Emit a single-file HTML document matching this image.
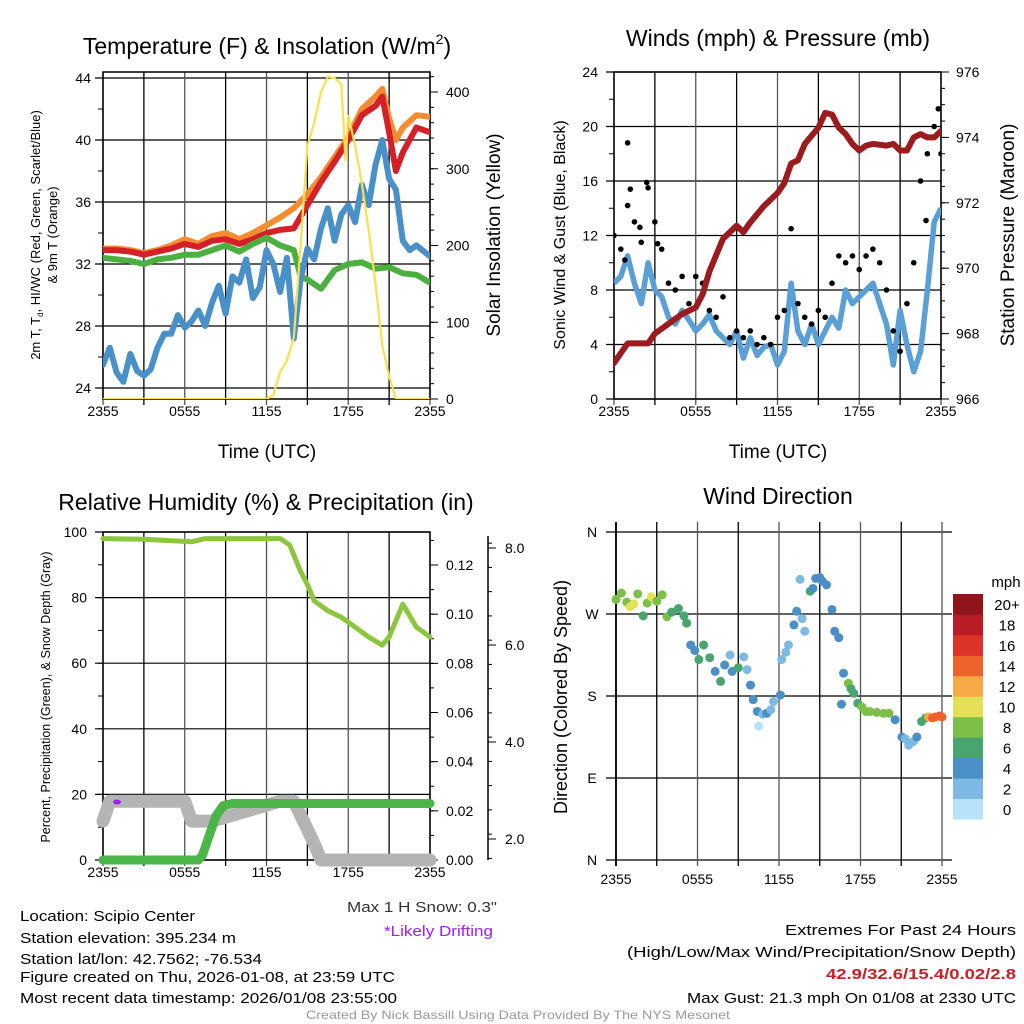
<!DOCTYPE html>
<html><head><meta charset="utf-8"><style>
html,body{margin:0;padding:0;background:#fff;}
svg{display:block;font-family:"Liberation Sans",sans-serif;}
</style></head><body>
<svg id="c" width="1024" height="1024" viewBox="0 0 1024 1024" xmlns="http://www.w3.org/2000/svg">
<rect width="1024" height="1024" fill="#fff"/>
<g id="titles" font-size="23" text-anchor="middle" fill="#000">
<text x="267" y="54">Temperature (F) &amp; Insolation (W/m<tspan font-size="14" dy="-10">2</tspan><tspan dy="10">)</tspan></text>
<text x="778" y="46">Winds (mph) &amp; Pressure (mb)</text>
<text x="266" y="510">Relative Humidity (%) &amp; Precipitation (in)</text>
<text x="778" y="504">Wind Direction</text>
</g>
<g id="layer"></g>
<g font-size="15" fill="#000">
<text x="20" y="921" textLength="175" lengthAdjust="spacingAndGlyphs">Location: Scipio Center</text>
<text x="20" y="943" textLength="216" lengthAdjust="spacingAndGlyphs">Station elevation: 395.234 m</text>
<text x="20" y="964" textLength="242" lengthAdjust="spacingAndGlyphs">Station lat/lon: 42.7562; -76.534</text>
<text x="20" y="982" textLength="375" lengthAdjust="spacingAndGlyphs">Figure created on Thu, 2026-01-08, at 23:59 UTC</text>
<text x="20" y="1003" textLength="377" lengthAdjust="spacingAndGlyphs">Most recent data timestamp: 2026/01/08 23:55:00</text>
<text x="347" y="912" fill="#333" textLength="150" lengthAdjust="spacingAndGlyphs">Max 1 H Snow: 0.3"</text>
<text x="384" y="936" fill="#a020f0" textLength="109" lengthAdjust="spacingAndGlyphs">*Likely Drifting</text>
<text x="785" y="935" textLength="231" lengthAdjust="spacingAndGlyphs">Extremes For Past 24 Hours</text>
<text x="627" y="957" textLength="389" lengthAdjust="spacingAndGlyphs">(High/Low/Max Wind/Precipitation/Snow Depth)</text>
<text x="826" y="979" fill="#c8202a" font-weight="bold" textLength="190" lengthAdjust="spacingAndGlyphs">42.9/32.6/15.4/0.02/2.8</text>
<text x="687" y="1003" textLength="329" lengthAdjust="spacingAndGlyphs">Max Gust: 21.3 mph On 01/08 at 2330 UTC</text>
<text x="306" y="1019" font-size="12" fill="#999" textLength="424" lengthAdjust="spacingAndGlyphs">Created By Nick Bassill Using Data Provided By The NYS Mesonet</text>
</g>
</svg>
<script>
// ---- Panel 1 data ----
const redT=[0,1,2,3,4,5,6,7,8,9,10,11,12,13,14,15,16,17,18,19,20,20.5,21,21.5,22,23,24];
const redV=[32.9,32.9,32.8,32.6,32.8,33.0,33.3,33.1,33.5,33.6,33.3,33.6,34.0,34.2,34.3,35.8,37.3,38.6,40.0,41.6,42.2,42.8,40.5,38.0,39.2,40.8,40.5];
const orgT=[0,1,2,3,4,5,6,7,8,9,10,11,12,13,14,15,16,17,18,19,20,20.5,21,21.5,22,23,24];
const orgV=[33.0,33.0,32.9,32.7,32.9,33.2,33.6,33.3,33.8,34.0,33.6,34.0,34.5,35.0,35.6,36.5,37.6,38.9,40.2,42.0,42.8,43.3,41.4,40.0,40.8,41.6,41.5];
const grnT=[0,1,2,3,4,5,6,7,8,9,10,11,12,13,14,14.5,15,16,17,18,19,20,21,22,23,24];
const grnV=[32.4,32.3,32.2,32.0,32.3,32.4,32.6,32.6,32.9,33.2,32.8,33.3,33.7,33.2,32.9,31.2,31.0,30.4,31.6,32.0,32.1,31.7,31.8,31.4,31.3,30.8];
const bluT=[0,0.5,1,1.5,2,2.5,3,3.5,4,4.5,5,5.5,6,6.5,7,7.5,8,8.5,9,9.5,10,10.5,11,11.5,12,12.5,13,13.5,14,14.5,15,15.5,16,16.5,17,17.5,18,18.5,19,19.5,20,20.5,21,21.5,22,22.5,23,24];
const bluV=[25.5,26.6,25.0,24.4,26.2,25.1,24.8,25.2,26.6,27.5,27.5,28.7,27.9,28.3,29.0,28.0,29.5,30.6,28.8,31.2,30.8,32.3,29.8,30.5,32.9,32.0,30.2,32.4,27.2,31.0,33.0,32.3,34.3,35.6,33.5,35.2,35.8,34.7,37.1,35.8,38.4,40.0,37.5,36.8,33.5,32.9,33.2,32.5];
const solT=[0,12,12.5,13,13.5,14,14.5,15,15.5,16,16.5,17,17.5,17.8,18,18.5,19,19.5,20,20.5,21,21.5,24];
const solV=[0,0,5,35,50,80,200,330,360,400,420,418,410,310,370,330,280,220,150,70,30,0,0];
const tempTicks=[24,28,32,36,40,44];
const solTicks=[0,100,200,300,400];
const timeLabels=["2355","0555","1155","1755","2355"];
// ---- Panel 2 data ----
const presT=[0,0.5,1,2,2.5,3,4,5,6,6.5,7,7.5,8,9,9.5,10,11,12,12.5,13,13.5,14,15,15.5,16,16.5,17,17.5,18,18.5,19,20,20.5,21,21.5,22,22.5,23,23.5,24];
const presV=[967.1,967.4,967.7,967.7,967.7,968.0,968.3,968.6,968.8,969.2,969.9,970.4,970.9,971.3,971.1,971.4,971.9,972.3,972.6,973.2,973.3,973.8,974.3,974.75,974.7,974.3,974.1,973.8,973.6,973.75,973.8,973.75,973.8,973.6,973.6,974.0,974.1,974.0,974.0,974.2];
const windT=[0,0.5,1,1.5,2,2.5,3,3.5,4,4.5,5,5.5,6,6.5,7,7.5,8,8.5,9,9.5,10,10.5,11,11.5,12,12.5,13,13.5,14,14.5,15,15.5,16,16.5,17,17.5,18,18.5,19,19.5,20,20.5,21,21.5,22,22.5,23,23.5,24];
const windV=[8.5,9.0,10.5,8.5,7.0,10.0,8.0,7.5,6.0,5.5,6.5,5.8,5.0,5.5,6.2,5.0,4.5,4.0,5.0,3.0,4.5,3.2,3.8,4.0,2.5,3.5,8.5,5.0,4.0,5.5,4.0,5.0,6.0,5.2,8.0,7.0,7.5,8.0,8.5,7.0,5.5,2.5,6.5,4.0,2.0,3.5,8.0,13.0,14.0];
const gustT=[0,0.5,1,1.5,2,2.5,3,3.5,4,4.5,5,5.5,6,6.5,7,7.5,8,8.5,9,9.5,10,10.5,11,11.5,12,12.5,13,13.5,14,14.5,15,15.5,16,16.5,17,17.5,18,18.5,19,19.5,20,20.5,21,21.5,22,22.5,23,23.5,24,1.0,2.4,1.2,23.8,0.8,1.9,3.2,22.9];
const gustV=[12,11,14.2,13,11.5,15.5,13,11,8.5,8,9,7,9,8.5,6.5,6,7.5,4.5,5,4.5,5,4,4.5,4,6,6.5,12.5,7,6,5.5,6.5,6,8.5,10.5,10,10.5,9.5,10.5,11,10,8,5,3.5,7,10,16,18,20,18,18.8,15.9,15.4,21.3,10.2,12.6,11.4,13.1];
const windTicks=[0,4,8,12,16,20,24];
const presTicks=[966,968,970,972,974,976];
// ---- Panel 3 data ----
const rhT=[0,3,6.5,7.5,13,13.7,14.5,15,15.5,16.5,17.5,18.5,19.5,20.5,21,22,23,24];
const rhV=[98,97.8,97,98,98,96,88,84,79,76,74,71,68,65.5,68,78,71,68];
const prT=[0,7,7.3,7.8,8.3,8.8,9.5,24];
const prV=[0,0,0.002,0.01,0.018,0.022,0.023,0.023];
const snT=[0,0.5,6,6.5,8,9,13,14,15,15.5,16,24];
const snV=[2.37,2.78,2.78,2.37,2.37,2.45,2.78,2.78,2.2,1.9,1.5,1.5];
const rhTicks=[0,20,40,60,80,100];
const prTicks=[0,0.02,0.04,0.06,0.08,0.10,0.12];
const snTicks=[2,4,6,8];
// ---- Panel 4 data ----
const dirT=[0,0.4,0.8,1.05,1.3,1.6,2,2.3,2.6,3.0,3.4,3.75,4.1,4.6,5.0,5.2,5.5,5.8,6.1,6.45,6.9,7.3,7.7,8.0,8.4,8.55,9,9.4,9.65,9.9,10.1,10.4,10.5,10.8,11.1,11.4,11.6,12.1,12.2,12.5,12.7,13.1,13.3,13.55,13.7,13.9,14.3,14.5,14.7,15.0,15.2,15.5,15.9,16.1,16.4,16.6,16.75,17.1,17.3,17.5,17.8,18.1,18.4,18.7,19.2,19.7,20.1,20.55,21.05,21.3,21.55,21.9,22.15,22.5,22.8,23,23.3,23.5,23.8,24];
const dirV=[286,293,283,278,281,292,268,282,289,284,291,267,272,276,268,260,236,230,220,236,222,207,196,214,225,207,211,223,209,192,176,163,147,160,161,165,174,181,220,228,236,258,273,308,265,251,295,298,309,310,306,302,275,251,244,171,205,194,188,183,172,168,163,163,162,161,161,154,135,133,126,130,135,152,156,157,156,157,158,157];
const dirS=[8,8,8,10,10,9,6,8,10,9,8,8,7,6,6,6,4,5,6,6,6,4,6,5,2,4,6,2,2,4,4,4,1,3,4,3,2,4,2,3,2,4,4,2,3,2,6,4,4,4,4,4,4,4,4,4,4,8,7,6,7,8,8,8,8,8,8,4,4,3,2,3,4,6,7,12,14,14,14,14];
const binLabels=["0","2","4","6","8","10","12","14","16","18","20+"];
const binColors=["#b6e3f8","#7db9e3","#4a8fc6","#49a56f","#7cc04a","#e4e058","#f5aa45","#ee622b","#dc3428","#ba1d25","#8f151a"];
const dirLabels=["N","E","S","W","N"];

const NS="http://www.w3.org/2000/svg";
const layer=document.getElementById('layer');
function mk(tag,attrs,parent){const e=document.createElementNS(NS,tag);for(const k in attrs)e.setAttribute(k,attrs[k]);(parent||layer).appendChild(e);return e;}
function lin(d0,d1,r0,r1){return v=>r0+(v-d0)/(d1-d0)*(r1-r0);}
function pathD(ts,vs,sx,sy){return ts.map((t,i)=>(i?'L':'M')+sx(t).toFixed(1)+' '+sy(vs[i]).toFixed(1)).join(' ');}
function txt(x,y,s,size,anchor,parent,extra){const e=mk('text',Object.assign({x:x,y:y,'font-size':size,'text-anchor':anchor||'middle',fill:'#000'},extra||{}),parent);e.textContent=s;return e;}

function frame(g,x0,x1,y0,y1,sx){
  for(let h=0;h<=24;h+=3){const x=sx(h);mk('line',{x1:x,x2:x,y1:y0,y2:y1+6,stroke:(h%6?'#000':'#555'),'stroke-width':1.3},g);}
  mk('rect',{x:x0,y:y0,width:x1-x0,height:y1-y0,fill:'none',stroke:'#000','stroke-width':1.5},g);
  for(let i=0;i<timeLabels.length;i++){const t=txt(sx(i*6),y1+17,timeLabels[i],14,'middle',g);}
}

// ===== Panel 1 =====
(function(){
 const g=mk('g',{});
 const x0=103,x1=430,y0=72,y1=399;
 const sx=lin(0,24,x0,x1), sy=lin(24,44,388,78), ss=lin(0,400,399,92);
 for(const v of tempTicks){const y=sy(v);mk('line',{x1:x0-8,x2:x1,y1:y,y2:y,stroke:'#000','stroke-width':1.2},g);const t=txt(x0-12,y+5,String(v),14,'end',g);}
 for(let v=24;v<=44;v+=2){mk('line',{x1:x0-5,x2:x0,y1:sy(v),y2:sy(v),stroke:'#000'},g);}
 for(const v of solTicks){const y=ss(v);mk('line',{x1:x1,x2:x1+8,y1:y,y2:y,stroke:'#000'},g);const t=txt(x1+16,y+5,String(v),14,'start',g);}
 for(let v=0;v<=420;v+=20){mk('line',{x1:x1,x2:x1+4,y1:ss(v),y2:ss(v),stroke:'#000'},g);}
 frame(g,x0,x1,y0,y1,sx);
 const cl=mk('clipPath',{id:'cp1'},g);mk('rect',{x:x0,y:y0,width:x1-x0,height:y1-y0},cl);
 const d=mk('g',{'clip-path':'url(#cp1)'},g);
 const series=[[orgT,orgV,'#f58c32','orange-9m-temp-line'],[redT,redV,'#d62028','red-2m-temp-line'],[grnT,grnV,'#4cb040','green-hiwc-line'],[bluT,bluV,'#4a90c8','blue-dewpoint-line']];
 for(const s of series){const p=mk('path',{d:pathD(s[0],s[1],sx,sy),fill:'none',stroke:s[2],'stroke-width':6,'stroke-linejoin':'round','stroke-linecap':'round'},d);}
 const sp=mk('path',{d:pathD(solT,solV,sx,ss),fill:'none',stroke:'#f8e050','stroke-width':2.2},d);
 const xl=txt(267,458,'Time (UTC)',19,'middle',g);
 const yl=mk('text',{transform:'translate(40,235) rotate(-90)','font-size':13,'text-anchor':'middle'},g);
 yl.innerHTML='2m T, T<tspan font-size="8" dy="3">d</tspan><tspan dy="-3">, HI/WC (Red, Green, Scarlet/Blue)</tspan>';
 const yl2=txt(0,0,'& 9m T (Orange)',13,'middle',g,{transform:'translate(57,235) rotate(-90)'});
 const yr=txt(0,0,'Solar Insolation (Yellow)',19,'middle',g,{transform:'translate(500,235) rotate(-90)'});
})();

// ===== Panel 2 =====
(function(){
 const g=mk('g',{});
 const x0=614,x1=941,y0=72,y1=399;
 const sx=lin(0,24,x0,x1), sy=lin(0,24,y1,y0), sp=lin(966,976,y1,y0);
 for(const v of windTicks){const y=sy(v);mk('line',{x1:x0-8,x2:x1,y1:y,y2:y,stroke:'#000','stroke-width':1.2},g);const t=txt(x0-16,y+5,String(v),14,'end',g);}
 for(let v=0;v<=24;v+=2)mk('line',{x1:x0-5,x2:x0,y1:sy(v),y2:sy(v),stroke:'#000'},g);
 for(const v of presTicks){const y=sp(v);mk('line',{x1:x1,x2:x1+8,y1:y,y2:y,stroke:'#000'},g);const t=txt(x1+15,y+5,String(v),14,'start',g);}
 for(let v=966;v<=976;v+=0.5)mk('line',{x1:x1,x2:x1+4,y1:sp(v),y2:sp(v),stroke:'#000'},g);
 frame(g,x0,x1,y0,y1,sx);
 const cl=mk('clipPath',{id:'cp2'},g);mk('rect',{x:x0,y:y0,width:x1-x0,height:y1-y0},cl);
 const d=mk('g',{'clip-path':'url(#cp2)'},g);
 const w=mk('path',{d:pathD(windT,windV,sx,sy),fill:'none',stroke:'#5a9fd6','stroke-width':5.5,'stroke-linejoin':'round'},d);
 for(let i=0;i<gustT.length;i++){const c=mk('circle',{cx:sx(gustT[i]),cy:sy(gustV[i]),r:2.8,fill:'#000'},d);}
 const p=mk('path',{d:pathD(presT,presV,sx,sp),fill:'none',stroke:'#9b1b1e','stroke-width':6,'stroke-linejoin':'round','stroke-linecap':'round'},d);
 const xl=txt(778,458,'Time (UTC)',19,'middle',g);
 const yl=txt(0,0,'Sonic Wind & Gust (Blue, Black)',16,'middle',g,{transform:'translate(565,235) rotate(-90)'});
 const yr=txt(0,0,'Station Pressure (Maroon)',19,'middle',g,{transform:'translate(1014,235) rotate(-90)'});
})();

// ===== Panel 3 =====
(function(){
 const g=mk('g',{});
 const x0=103,x1=430,y0=532,y1=860;
 const sx=lin(0,24,x0,x1), sy=lin(0,100,y1,y0), spr=lin(0,0.12,y1,565), ssn=lin(2,8,839,548);
 for(const v of rhTicks){const y=sy(v);mk('line',{x1:x0-8,x2:x1,y1:y,y2:y,stroke:'#000','stroke-width':1.2},g);const t=txt(x0-16,y+5,String(v),14,'end',g);}
 for(let v=0;v<=100;v+=10)mk('line',{x1:x0-5,x2:x0,y1:sy(v),y2:sy(v),stroke:'#000'},g);
 for(const v of prTicks){const y=spr(v);mk('line',{x1:x1,x2:x1+8,y1:y,y2:y,stroke:'#000'},g);const t=txt(x1+16,y+5,v.toFixed(2),14,'start',g);}
 for(let v=0;v<=0.13;v+=0.01)mk('line',{x1:x1,x2:x1+4,y1:spr(v),y2:spr(v),stroke:'#000'},g);
 mk('line',{x1:488,x2:488,y1:536,y2:860,stroke:'#000','stroke-width':1.5},g);
 for(const v of snTicks){const y=ssn(v);mk('line',{x1:488,x2:496,y1:y,y2:y,stroke:'#000'},g);const t=txt(505,y+5,v.toFixed(1),14,'start',g);}
 for(let v=1.6;v<=8.3;v+=0.5)mk('line',{x1:488,x2:492,y1:ssn(v),y2:ssn(v),stroke:'#000'},g);
 frame(g,x0,x1,y0,y1,sx);
 const d=mk('g',{},g);
 const sn=mk('path',{d:pathD(snT,snV.map(v=>Math.max(v,0)),sx,v=>Math.min(ssn(v),y1)),fill:'none',stroke:'#b4b4b4','stroke-width':13,'stroke-linejoin':'round','stroke-linecap':'round'},d);
 const pr=mk('path',{d:pathD(prT,prV,sx,spr),fill:'none',stroke:'#4cb548','stroke-width':9,'stroke-linejoin':'round','stroke-linecap':'round'},d);
 const rh=mk('path',{d:pathD(rhT,rhV,sx,sy),fill:'none',stroke:'#8cc63f','stroke-width':5,'stroke-linejoin':'round','stroke-linecap':'round'},d);
 const dm=mk('ellipse',{cx:117,cy:802,rx:4,ry:2.5,fill:'#a020f0'},d);
 const yl=txt(0,0,'Percent, Precipitation (Green), & Snow Depth (Gray)',12.5,'middle',g,{transform:'translate(50,697) rotate(-90)'});
})();

// ===== Panel 4 =====
(function(){
 const g=mk('g',{});
 const x0=616,x1=942,y0=532,y1=860;
 const sx=lin(0,24,x0,x1), sy=lin(0,360,y1,y0);
 dirLabels.forEach((s,i)=>{const y=sy(i*90);mk('line',{x1:x0-10,x2:x1+10,y1:y,y2:y,stroke:'#000','stroke-width':1.2},g);const t=txt(x0-24,y+5,s,14,'middle',g);});
 for(let h=0;h<=24;h+=3){const x=sx(h);mk('line',{x1:x,x2:x,y1:y0-10,y2:y1+6,stroke:(h%6?'#000':'#555'),'stroke-width':1.3},g);}
 mk('line',{x1:x0,x2:x0,y1:y0-10,y2:y1+6,stroke:'#000','stroke-width':1.8},g);
 for(let i=0;i<timeLabels.length;i++){const t=txt(sx(i*6),y1+24,timeLabels[i],14,'middle',g);}
 for(let i=0;i<dirT.length;i++){const b=Math.min(10,Math.floor(dirS[i]/2));const c=mk('circle',{cx:sx(dirT[i]),cy:sy(dirV[i]),r:4.5,fill:binColors[b]},g);}
 const yl=txt(0,0,'Direction (Colored By Speed)',18,'middle',g,{transform:'translate(567,697) rotate(-90)'});
 const cb=mk('g',{},g);
 const bh=225/binLabels.length;
 for(let i=0;i<binLabels.length;i++){const y=819-(i+1)*bh;const r=mk('rect',{x:953,y:y,width:30,height:bh+0.5,fill:binColors[i]},cb);const t=txt(1007,y+bh/2+6,binLabels[i],15,'middle',cb);}
 const u=txt(1006,587,'mph',15,'middle',cb);
})();
</script>
</body></html>
